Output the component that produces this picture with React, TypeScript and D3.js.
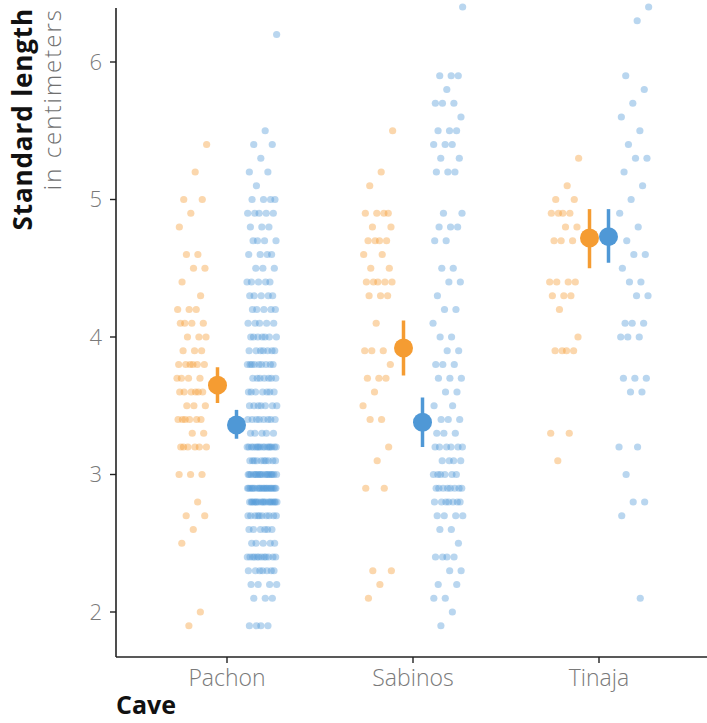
import React from "react";
import * as d3 from "d3";

// Caves on the x axis and the y-axis tick values (cm)
const caves = ["Pachon", "Sabinos", "Tinaja"];
const yTicks = [2, 3, 4, 5, 6];

// Individual standard lengths (cm), orange group
const pachonOrange = [
  5.4, 5.2, 5.0, 5.0, 4.9, 4.8, 4.6, 4.6, 4.5, 4.5, 4.4, 4.3,
  4.2, 4.2, 4.2, 4.1, 4.1, 4.1, 4.1, 4.0, 4.0, 4.0, 3.9, 3.9, 3.9,
  3.8, 3.8, 3.8, 3.8, 3.8, 3.8, 3.7, 3.7, 3.7, 3.7,
  3.6, 3.6, 3.6, 3.6, 3.6, 3.6, 3.5, 3.5, 3.5,
  3.4, 3.4, 3.4, 3.4, 3.4, 3.4, 3.3, 3.3,
  3.2, 3.2, 3.2, 3.2, 3.2, 3.2, 3.0, 3.0, 3.0,
  2.8, 2.7, 2.7, 2.6, 2.5, 2.0, 1.9,
];
const sabinosOrange = [
  5.5, 5.2, 5.1, 4.9, 4.9, 4.9, 4.9, 4.8, 4.8, 4.7, 4.7, 4.7, 4.7,
  4.6, 4.6, 4.5, 4.5, 4.4, 4.4, 4.4, 4.4, 4.4, 4.3, 4.3, 4.3, 4.1,
  3.9, 3.9, 3.9, 3.8, 3.7, 3.7, 3.7, 3.6, 3.5, 3.4, 3.4, 3.2, 3.1,
  2.9, 2.9, 2.3, 2.3, 2.2, 2.1,
];
const tinajaOrange = [
  5.3, 5.1, 5.0, 5.0, 4.9, 4.9, 4.9, 4.9, 4.8, 4.8, 4.7, 4.7, 4.7,
  4.4, 4.4, 4.4, 4.4, 4.3, 4.3, 4.3, 4.2, 4.0, 3.9, 3.9, 3.9, 3.9,
  3.3, 3.3, 3.1,
];

// Individual standard lengths (cm), blue group
const pachonBlue = [
  6.2, 5.5, 5.4, 5.4, 5.3, 5.2, 5.2, 5.1, 5.0, 5.0, 5.0, 5.0,
  4.9, 4.9, 4.9, 4.9, 4.9, 4.8, 4.8, 4.8, 4.7, 4.7, 4.7, 4.7,
  4.6, 4.6, 4.6, 4.6, 4.5, 4.5, 4.5, 4.4, 4.4, 4.4, 4.4, 4.4,
  4.3, 4.3, 4.3, 4.3, 4.3, 4.2, 4.2, 4.2, 4.2, 4.2,
  4.1, 4.1, 4.1, 4.1, 4.1, 4.0, 4.0, 4.0, 4.0, 4.0, 4.0, 4.0,
  3.9, 3.9, 3.9, 3.9, 3.9, 3.9, 3.9,
  3.8, 3.8, 3.8, 3.8, 3.8, 3.8, 3.8, 3.8, 3.8,
  3.7, 3.7, 3.7, 3.7, 3.7, 3.7, 3.7, 3.6, 3.6, 3.6, 3.6, 3.6, 3.6, 3.6,
  3.5, 3.5, 3.5, 3.5, 3.5, 3.5, 3.5, 3.4, 3.4, 3.4, 3.4, 3.4, 3.4, 3.4, 3.4,
  3.3, 3.3, 3.3, 3.3, 3.3,
  3.2, 3.2, 3.2, 3.2, 3.2, 3.2, 3.2, 3.2, 3.2, 3.2, 3.2, 3.2, 3.2, 3.2, 3.2, 3.2,
  3.1, 3.1, 3.1, 3.1, 3.1, 3.1, 3.1, 3.1, 3.1, 3.1,
  3.0, 3.0, 3.0, 3.0, 3.0, 3.0, 3.0, 3.0, 3.0, 3.0, 3.0, 3.0, 3.0, 3.0, 3.0, 3.0, 3.0, 3.0,
  2.9, 2.9, 2.9, 2.9, 2.9, 2.9, 2.9, 2.9, 2.9, 2.9, 2.9, 2.9, 2.9, 2.9, 2.9, 2.9, 2.9, 2.9, 2.9, 2.9,
  2.8, 2.8, 2.8, 2.8, 2.8, 2.8, 2.8, 2.8, 2.8, 2.8, 2.8, 2.8, 2.8, 2.8, 2.8, 2.8, 2.8, 2.8,
  2.7, 2.7, 2.7, 2.7, 2.7, 2.7, 2.7, 2.7, 2.7, 2.7,
  2.6, 2.6, 2.6, 2.6, 2.6, 2.6, 2.5, 2.5, 2.5, 2.5, 2.5,
  2.4, 2.4, 2.4, 2.4, 2.4, 2.4, 2.4, 2.4, 2.4, 2.4, 2.4, 2.4,
  2.3, 2.3, 2.3, 2.3, 2.3, 2.3, 2.3, 2.2, 2.2, 2.2, 2.2,
  2.1, 2.1, 2.1, 1.9, 1.9, 1.9, 1.9,
];
const sabinosBlue = [
  6.4, 5.9, 5.9, 5.9, 5.8, 5.7, 5.7, 5.7, 5.6, 5.5, 5.5, 5.5,
  5.4, 5.4, 5.4, 5.3, 5.3, 5.2, 5.2, 5.2, 4.9, 4.9, 4.8, 4.8, 4.8,
  4.7, 4.7, 4.5, 4.5, 4.4, 4.4, 4.3, 4.2, 4.2, 4.1, 4.0, 4.0,
  3.9, 3.9, 3.8, 3.8, 3.8, 3.7, 3.7, 3.7, 3.6, 3.6, 3.5, 3.5,
  3.4, 3.4, 3.4, 3.3, 3.3, 3.3, 3.2, 3.2, 3.2, 3.2, 3.2, 3.2,
  3.1, 3.1, 3.1, 3.1, 3.0, 3.0, 3.0, 3.0, 3.0, 3.0,
  2.9, 2.9, 2.9, 2.9, 2.9, 2.9, 2.9, 2.9, 2.8, 2.8, 2.8, 2.8, 2.8, 2.8, 2.8,
  2.7, 2.7, 2.7, 2.7, 2.6, 2.6, 2.5, 2.4, 2.4, 2.4, 2.4,
  2.3, 2.3, 2.2, 2.2, 2.1, 2.1, 2.0, 1.9,
];
const tinajaBlue = [
  6.4, 6.3, 5.9, 5.8, 5.7, 5.6, 5.5, 5.4, 5.3, 5.3, 5.2, 5.1, 5.0,
  4.9, 4.8, 4.7, 4.6, 4.6, 4.5, 4.4, 4.4, 4.3, 4.3, 4.1, 4.1, 4.1,
  4.0, 4.0, 4.0, 3.7, 3.7, 3.7, 3.6, 3.6, 3.2, 3.2, 3.0, 2.8, 2.8,
  2.7, 2.1,
];

// Group means with their interval limits, per cave
const meanOrange = [3.65, 3.92, 4.72];
const lowOrange = [3.52, 3.72, 4.5];
const highOrange = [3.78, 4.12, 4.93];
const meanBlue = [3.36, 3.38, 4.73];
const lowBlue = [3.26, 3.2, 4.54];
const highBlue = [3.47, 3.56, 4.93];

const orangeSets = [pachonOrange, sabinosOrange, tinajaOrange];
const blueSets = [pachonBlue, sabinosBlue, tinajaBlue];

const ORANGE = "#f59c32";
const BLUE = "#4f98d6";
const FONT = "'Open Sans', 'Noto Sans', sans-serif";

const W = 707;
const H = 723;
const axisLeft = 116;
const axisTop = 8;
const axisBottom = 657;

// spreads points of each cloud horizontally
const spread = (i: number) => (((i + 1) * 0.6180339887 + 0.37) % 1) * 2 - 1;

export default function App() {
  const x = d3.scalePoint<string>().domain(caves).range([227, 599]);
  const y = d3.scaleLinear().domain([2, 6]).range([612, 62]);

  const cloudOffset = 35;
  const cloudHalf = 15;
  const meanOffset = 9.5;

  const clouds = (sets: number[][], side: number, color: string) =>
    sets.map((vals, ci) =>
      vals.map((v, i) => (
        <circle
          key={`${color}-${ci}-${i}`}
          cx={(x(caves[ci]) as number) + side * cloudOffset + spread(i) * cloudHalf}
          cy={y(v)}
          r={3.6}
          fill={color}
          fillOpacity={0.4}
        />
      ))
    );

  const summaries = (
    means: number[],
    lows: number[],
    highs: number[],
    side: number,
    color: string
  ) =>
    means.map((m, ci) => {
      const cx = (x(caves[ci]) as number) + side * meanOffset;
      return (
        <g key={`${color}-m-${ci}`}>
          <line x1={cx} x2={cx} y1={y(lows[ci])} y2={y(highs[ci])} stroke={color} strokeWidth={3.5} />
          <circle cx={cx} cy={y(m)} r={9.5} fill={color} />
        </g>
      );
    });

  return (
    <svg
      width={W}
      height={H}
      style={{ position: "absolute", left: 0, top: 0, display: "block", background: "#fff" }}
      fontFamily={FONT}
    >
      {clouds(orangeSets, -1, ORANGE)}
      {clouds(blueSets, 1, BLUE)}
      {summaries(meanOrange, lowOrange, highOrange, -1, ORANGE)}
      {summaries(meanBlue, lowBlue, highBlue, 1, BLUE)}

      {/* y axis */}
      <line x1={axisLeft} x2={axisLeft} y1={axisTop} y2={axisBottom} stroke="#222" strokeWidth={1.6} />
      {yTicks.map((t) => (
        <g key={`yt-${t}`}>
          <line x1={axisLeft - 6} x2={axisLeft} y1={y(t)} y2={y(t)} stroke="#222" strokeWidth={1.4} />
          <text
            x={axisLeft - 14}
            y={y(t)}
            dy="0.36em"
            textAnchor="end"
            fontSize={22}
            fontWeight={300}
            fill="#7a7a7a"
          >
            {t}
          </text>
        </g>
      ))}

      {/* x axis */}
      <line x1={axisLeft} x2={W} y1={axisBottom} y2={axisBottom} stroke="#222" strokeWidth={1.6} />
      {caves.map((c) => (
        <g key={`xt-${c}`}>
          <line x1={x(c)} x2={x(c)} y1={axisBottom} y2={axisBottom + 6} stroke="#222" strokeWidth={1.4} />
          <text x={x(c)} y={686} textAnchor="middle" fontSize={23} fontWeight={300} fill="#7a7a7a">
            {c}
          </text>
        </g>
      ))}

      {/* axis titles */}
      <text x={axisLeft} y={714} fontSize={25} fontWeight={700} fill="#111">
        Cave
      </text>
      <text
        transform={`translate(32, ${axisTop}) rotate(-90)`}
        textAnchor="end"
        fontSize={26}
        fontWeight={700}
        letterSpacing={0.9}
        fill="#111"
      >
        Standard length
      </text>
      <text
        transform={`translate(61, ${axisTop}) rotate(-90)`}
        textAnchor="end"
        fontSize={24}
        fontWeight={300}
        letterSpacing={2}
        fill="#707070"
      >
        in centimeters
      </text>
    </svg>
  );
}
